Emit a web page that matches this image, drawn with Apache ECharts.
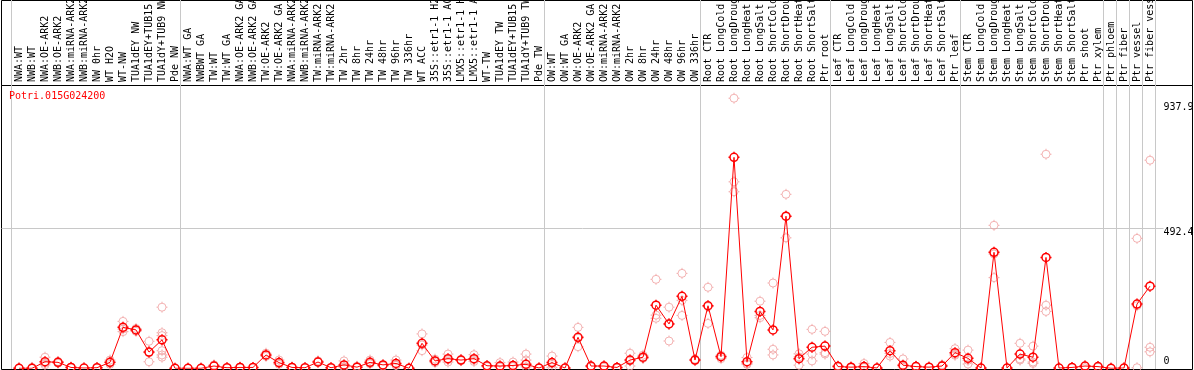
<!DOCTYPE html>
<html><head><meta charset="utf-8">
<script src="https://cdn.jsdelivr.net/npm/echarts@6/dist/echarts.min.js"></script>
<style>html,body{margin:0;padding:0;background:#fff}#c{width:1194px;height:370px}</style>
</head><body><div id="c"></div>
<script>
const geneId = 'Potri.015G024200';
const categories = [
 'NWA:WT','NWB:WT','NWA:OE-ARK2','NWB:OE-ARK2','NWA:miRNA-ARK2','NWB:miRNA-ARK2','NW 0hr','WT H2O','WT-NW','TUA1dEY NW','TUA1dEY+TUB15 NW','TUA1dY+TUB9 NW','Pde NW',
 'NWA:WT GA','NWBWT GA','TW:WT','TW:WT GA','NWA:OE-ARK2 GA','NWB:OE-ARK2 GA','TW:OE-ARK2','TW:OE-ARK2 GA','NWA:miRNA-ARK2 GA','NWB:miRNA-ARK2 GA','TW:miRNA-ARK2','TW:miRNA-ARK2 GA',
 'TW 2hr','TW 8hr','TW 24hr','TW 48hr','TW 96hr','TW 336hr','WT ACC','35S::etr1-1 H2O','35S::etr1-1 ACC','LMX5::etr1-1 H2O','LMX5::etr1-1 ACC','WT-TW','TUA1dEY TW','TUA1dEY+TUB15 TW','TUA1dY+TUB9 TW','Pde TW',
 'OW:WT','OW:WT GA','OW:OE-ARK2','OW:OE-ARK2 GA','OW:miRNA-ARK2','OW:miRNA-ARK2 GA','OW 2hr','OW 8hr','OW 24hr','OW 48hr','OW 96hr','OW 336hr',
 'Root CTR','Root LongCold','Root LongDrought','Root LongHeat','Root LongSalt','Root ShortCold','Root ShortDrought','Root ShortHeat','Root ShortSalt','Ptr root',
 'Leaf CTR','Leaf LongCold','Leaf LongDrought','Leaf LongHeat','Leaf LongSalt','Leaf ShortCold','Leaf ShortDrought','Leaf ShortHeat','Leaf ShortSalt','Ptr leaf',
 'Stem CTR','Stem LongCold','Stem LongDrought','Stem LongHeat','Stem LongSalt','Stem ShortCold','Stem ShortDrought','Stem ShortHeat','Stem ShortSalt','Ptr shoot','Ptr xylem',
 'Ptr phloem','Ptr fiber','Ptr vessel','Ptr fiber vessel'
];
const meanValues = [
 0,0,23,21,3,1,2,21,144,135,57,100,0,
 0,0,8,2,3,3,47,20,3,2,22,2,
 12,4,21,12,17,0,88,26,34,29,34,9,8,10,14,1,
 20,1,109,8,8,3,29,39,222,156,253,29,
 220,41,742,23,200,135,535,34,74,78,
 6,4,6,1,62,11,6,4,8,55,
 35,1,408,1,50,39,390,1,3,8,6,
 0,1,226,289
];
const replicateValues = [
 [0,2],[0,3],[39,12,18],[21,18,24],[3,5],[1],[2,3],[29,14,20],[165,129,138],[135,130,140],[95,23,55],[215,125,115,62,47,39],[0],
 [0],[0],[8,12],[2],[3,5],[3],[53,42,46],[29,14,17],[3,5],[2],[22,26],[2],
 [26,6,4],[4,7],[29,16,18],[12,8],[29,10,12],[0],[121,62,82],[26,20,32],[50,30,22],[29,27,31],[48,30,24],[9,6],[20,4],[22,6],[50,29,5],[1,0],
 [43,3,14],[1],[144,76,106],[8,5],[8,4],[3,1],[53,8,26],[46,36,35],[313,187,176],[215,96,157],[334,186,239],[27,32],
 [285,158,217],[46,34,43],[950,656,621],[38,17,14],[236,178,186],[300,67,47],[612,459,534],[40,11,51],[137,50,26],[130,50,55],
 [6,9],[4,2],[17,3],[1],[91,43,52],[33,5],[6,8],[4],[8,12],[69,50,46],
 [64,15,28],[1],[503,319,402],[1],[88,29,33],[78,17,22],[753,222,200],[1],[3],[8,2],[6,4],
 [0],[1,0],[457,2,220],[732,74,58]
];
const yTickValues = [0, 492.4, 937.9];
const gridLineValue = 492.4;
const groupStarts = [0,13,41,53,63,73,84,85,86,87];

const MONO = 'DejaVu Sans Mono';
const repData = [];
replicateValues.forEach((arr, i) => arr.forEach(v => repData.push([i, v])));

const sym = 'path://M0,-5.5L0,-4M0,4L0,5.5M-5.5,0L-4,0M4,0L5.5,0M-4,0A4,4,0,1,0,4,0A4,4,0,1,0,-4,0Z';
const cell = 13, n = categories.length;

const chart = echarts.init(document.getElementById('c'), null, {renderer: 'canvas'});
chart.setOption({
  animation: false,
  backgroundColor: '#fff',
  title: {text: geneId, left: 9, top: 91, padding: 0,
    textStyle: {fontFamily: MONO, fontSize: 10, fontWeight: 'normal', color: '#ff0000'}},
  grid: [
    {left: 12.5, top: 84, width: cell * n, height: 284.3, outerBoundsMode: 'none', containLabel: false},
    {left: 11, top: 0, width: cell * n, height: 369, outerBoundsMode: 'none', containLabel: false},
    {left: 1.5, top: 88.33, width: 1162, height: 280, outerBoundsMode: 'none', containLabel: false},
    {left: 1.5, top: 0.5, width: 1191, height: 85, show: true, borderColor: '#000', borderWidth: 1, backgroundColor: 'transparent', outerBoundsMode: 'none'},
    {left: 1.5, top: 85.5, width: 1191, height: 284, show: true, borderColor: '#000', borderWidth: 1, backgroundColor: 'transparent', outerBoundsMode: 'none'}
  ],
  xAxis: [
    {gridIndex: 0, type: 'category', position: 'top', data: categories, boundaryGap: true,
      axisLine: {show: false}, axisTick: {show: false}, splitLine: {show: false},
      axisLabel: {interval: 0, rotate: 90, margin: 2, fontFamily: MONO, fontSize: 10, color: '#000', hideOverlap: false}},
    {gridIndex: 1, type: 'category', data: categories, boundaryGap: true,
      axisLine: {show: false}, axisTick: {show: false}, axisLabel: {show: false},
      splitLine: {show: true, interval: (i) => groupStarts.includes(i), lineStyle: {color: '#c8c8c8', width: 1}}},
    {gridIndex: 2, type: 'value', show: false},
    {gridIndex: 3, type: 'value', show: false},
    {gridIndex: 4, type: 'value', show: false}
  ],
  yAxis: [
    {gridIndex: 0, type: 'value', position: 'right', min: 0, max: 1000,
      axisLine: {show: false}, axisTick: {show: false}, splitLine: {show: false},
      axisLabel: {customValues: yTickValues, margin: 7, fontFamily: MONO, fontSize: 10, color: '#000',
        formatter: (v) => v === 0 ? '{lo|0}' : (v > 700 ? '{h1|' + v + '}' : '{h2|' + v + '}'),
        rich: {lo: {padding: [0,0,13,0], fontFamily: MONO, fontSize: 10}, h1: {padding: [12,0,0,0], fontFamily: MONO, fontSize: 10}, h2: {padding: [8,0,0,0], fontFamily: MONO, fontSize: 10}}}},
    {gridIndex: 1, type: 'value', show: false},
    {gridIndex: 2, type: 'value', min: 0, max: gridLineValue * 2, interval: gridLineValue,
      axisLine: {show: false}, axisTick: {show: false}, axisLabel: {show: false},
      splitLine: {show: true, showMinLine: false, showMaxLine: false, lineStyle: {color: '#c8c8c8', width: 1}}},
    {gridIndex: 3, type: 'value', show: false},
    {gridIndex: 4, type: 'value', show: false}
  ],
  series: [
    {type: 'scatter', xAxisIndex: 0, yAxisIndex: 0, data: repData, symbol: sym, symbolSize: 11, z: 2,
      itemStyle: {color: 'rgba(0,0,0,0)', borderColor: '#f0a0a0', borderWidth: 1}, silent: true},
    {type: 'line', xAxisIndex: 0, yAxisIndex: 0, data: meanValues, symbol: sym, symbolSize: 11, showAllSymbol: true, z: 3,
      lineStyle: {color: '#ff0000', width: 1},
      itemStyle: {color: 'rgba(0,0,0,0)', borderColor: '#ff0000', borderWidth: 1.5}, silent: true}
  ]
});
</script></body></html>
